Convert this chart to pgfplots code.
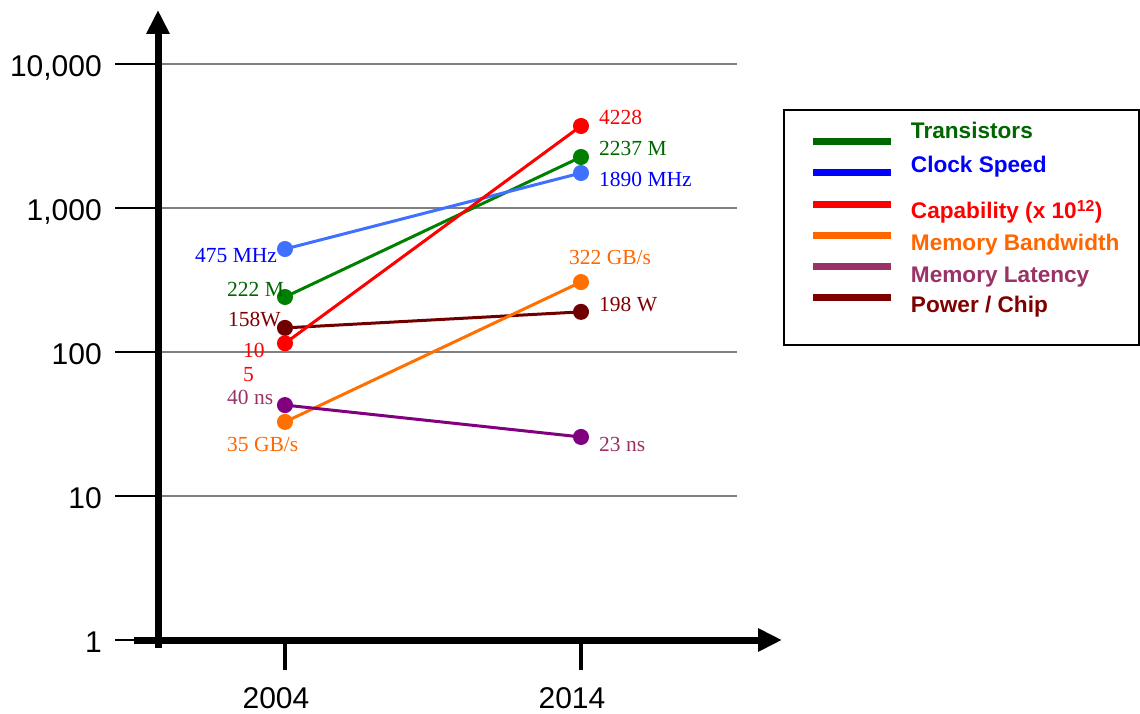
\documentclass[border=0pt]{standalone}
\usepackage{fontspec}
\setmainfont{Liberation Serif}
\newfontfamily\sansf{Liberation Sans}
\usepackage{pgfplots}
\pgfplotsset{compat=1.18}
\usetikzlibrary{arrows.meta}
\definecolor{cgreen}{RGB}{0,128,0}
\definecolor{cblue}{RGB}{64,112,255}
\definecolor{cred}{RGB}{255,0,0}
\definecolor{corange}{RGB}{255,112,0}
\definecolor{cpurple}{RGB}{128,0,128}
\definecolor{cdred}{RGB}{112,0,0}
\definecolor{lgreen}{RGB}{0,102,0}
\definecolor{lblue}{RGB}{0,0,255}
\definecolor{lorange}{RGB}{255,102,0}
\definecolor{lpurple}{RGB}{153,51,102}
\definecolor{ldred}{RGB}{128,0,0}
\definecolor{gridgray}{RGB}{128,128,128}
\newcommand\lbl{\fontsize{21.5}{26}\selectfont}
\begin{document}
\begin{tikzpicture}
\useasboundingbox (-158pt,-73pt) rectangle (982pt,640pt);
\begin{axis}[
  scale only axis, width=579pt, height=576pt,
  xmin=1999.71, xmax=2019.27,
  ymode=log, ymin=1, ymax=10000,
  xtick={2004,2014}, xticklabels={2004,2014},
  ytick={1,10,100,1000,10000}, yticklabels={1,10,100,{1,000},{10,000}},
  major tick length=0pt, minor tick length=0pt, tick style={draw=none},
  axis line style={draw=none},
  ymajorgrids, grid style={draw=gridgray, line width=2pt},
  ticklabel style={font=\fontsize{30}{35}\selectfont\sansf, inner sep=0pt},
  xticklabel style={anchor=base, xshift=-9pt, yshift=-68pt},
  yticklabel style={anchor=base east, xshift=-56pt, yshift=-12pt},
  clip=false,
  legend cell align=left,
  legend style={
    at={(axis description cs:1.0794,0.9219)}, anchor=north west,
    draw=black, line width=2pt, fill=white,
    inner xsep=20pt, inner ysep=12pt,
    row sep=9pt, column sep=18pt,
    font=\fontsize{22.6}{27}\selectfont\sansf\bfseries,
    nodes={inner sep=0pt, text height=17pt, text depth=6pt},
    cells={anchor=base west},
  },
]
\addplot[cgreen, line width=3pt, mark=*, mark size=6.5pt, mark options={draw=none, fill=cgreen},
  legend image code/.code={\path (-8pt,0pt) (78pt,0pt); \draw[overlay, lgreen, line width=7pt] (0pt,-3pt) -- (78pt,-3pt);}]
  coordinates {(2004,241) (2014,2260)};
\addlegendentry[text=lgreen]{Transistors}
\addplot[cblue, line width=3pt, mark=*, mark size=6.5pt, mark options={draw=none, fill=cblue},
  legend image code/.code={\path (-8pt,0pt) (78pt,0pt); \draw[overlay, lblue, line width=7pt] (0pt,0pt) -- (78pt,0pt);}]
  coordinates {(2004,519) (2014,1750)};
\addlegendentry[text=lblue, text height=19pt]{Clock Speed}
\addplot[cdred, line width=3pt, mark=*, mark size=6.5pt, mark options={draw=none, fill=cdred},
  forget plot]
  coordinates {(2004,147) (2014,190)};
\addplot[cred, line width=3pt, mark=*, mark size=6.5pt, mark options={draw=none, fill=cred},
  legend image code/.code={\path (-8pt,0pt) (78pt,0pt); \draw[overlay, cred, line width=7pt] (0pt,14pt) -- (78pt,14pt);}]
  coordinates {(2004,115) (2014,3710)};
\addlegendentry[text=cred, text height=31pt]{Capability (x 10\textsuperscript{12})}
\addplot[corange, line width=3pt, mark=*, mark size=6.5pt, mark options={draw=none, fill=corange},
  legend image code/.code={\path (-8pt,0pt) (78pt,0pt); \draw[overlay, lorange, line width=7pt] (0pt,15pt) -- (78pt,15pt);}]
  coordinates {(2004,32.7) (2014,306)};
\addlegendentry[text=lorange]{Memory Bandwidth}
\addplot[cpurple, line width=3pt, mark=*, mark size=6.5pt, mark options={draw=none, fill=cpurple},
  legend image code/.code={\path (-8pt,0pt) (78pt,0pt); \draw[overlay, lpurple, line width=7pt] (0pt,16pt) -- (78pt,16pt);}]
  coordinates {(2004,42.8) (2014,25.7)};
\addlegendentry[text=lpurple]{Memory Latency}
\addlegendimage{legend image code/.code={\path (-8pt,0pt) (78pt,0pt); \draw[overlay, ldred, line width=7pt] (0pt,15pt) -- (78pt,15pt);}}
\addlegendentry[text=ldred, text height=15pt, text depth=20pt]{Power / Chip}
\end{axis}
% axes with arrows
\draw[line width=7pt, -{Triangle[length=24pt,width=22pt]}] (0pt,-8pt) -- (0pt,630pt);
\draw[line width=7pt, -{Triangle[length=24pt,width=22pt]}] (-24pt,0pt) -- (624pt,0pt);
\foreach \yy in {0,144,288,432,576} {\draw[line width=2pt] (-43pt,\yy pt) -- (-3pt,\yy pt);}
\draw[line width=4pt] (127pt,0pt) -- (127pt,-30pt);
\draw[line width=4pt] (423pt,0pt) -- (423pt,-30pt);
% data labels
\begin{scope}[every node/.style={anchor=base west, inner sep=0pt, font=\lbl}]
\node[text=lblue] at (37pt,377pt) {475 MHz};
\node[text=lgreen] at (69pt,344pt) {222 M};
\node[text=ldred] at (70pt,313pt) {158W};
\node[text=cred] at (85pt,283pt) {10};
\node[text=cred] at (85pt,259pt) {5};
\node[text=lpurple] at (69pt,236pt) {40 ns};
\node[text=lorange] at (69pt,189pt) {35 GB/s};
\node[text=cred] at (441pt,515pt) {4228};
\node[text=lgreen] at (441pt,484pt) {2237 M};
\node[text=lblue] at (441pt,453pt) {1890 MHz};
\node[text=lorange] at (411pt,375pt) {322 GB/s};
\node[text=ldred] at (441pt,328pt) {198 W};
\node[text=lpurple] at (441pt,189pt) {23 ns};
\end{scope}
\end{tikzpicture}
\end{document}
